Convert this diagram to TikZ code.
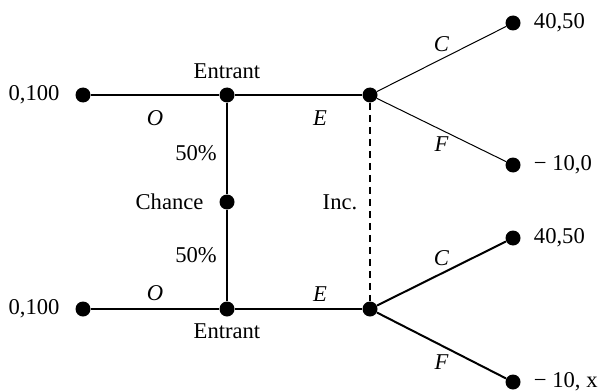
\documentclass[tikz,border=0pt]{standalone}
\usepackage{fontspec}
\setmainfont{Liberation Serif}
\usetikzlibrary{positioning}

\begin{document}
\begin{tikzpicture}[x=0.5pt,y=-0.5pt,font=\fontsize{11.3}{13}\selectfont,
  dot/.style={circle,fill=black,inner sep=0pt,minimum size=7.5pt},
  move/.style={line width=1.2pt},
  thinmove/.style={line width=0.5pt},
  infoset/.style={line width=0.7pt,dash pattern=on 3.5pt off 2.5pt}]
  \useasboundingbox (0,0) rectangle (598,390);
  % upper half
  \node[dot] (ot) at (83,95) {};
  \node[dot] (et) at (227,95) {};
  \node[dot] (it) at (370,95) {};
  \node[dot] (ct) at (513,23) {};
  \node[dot] (ft) at (513,165) {};
  % chance
  \node[dot] (ch) at (227,202) {};
  % lower half
  \node[dot] (ob) at (83,309) {};
  \node[dot] (eb) at (227,309) {};
  \node[dot] (ib) at (370,309) {};
  \node[dot] (cb) at (513,238) {};
  \node[dot] (fb) at (513,382) {};
  % labels
  \node[left=4.3pt of ot] (pot) {0,100};
  \node[left=4.3pt of ob] (pob) {0,100};
  \node[above=0.5pt of et] (let) {Entrant};
  \node[below=0pt of eb] (leb) {Entrant};
  \node[left=4.3pt of ch] (lch) {Chance};
  \node[right=3pt of ct] (pct) {40,50};
  \node[right=3pt of ft] (pft) {− 10,0};
  \node[right=3pt of cb] (pcb) {40,50};
  \node[right=3pt of fb] (pfb) {− 10, x};
  % moves
  \draw[move] (ot) -- (et) node[midway,below=4pt] {\textit{O}};
  \draw[move] (et) -- (it) node[pos=0.67,below=4pt] {\textit{E}};
  \draw[move] (ob) -- (eb) node[midway,above=0pt] {\textit{O}};
  \draw[move] (eb) -- (ib) node[pos=0.67,above=0pt] {\textit{E}};
  \draw[move] (et) -- (ch) node[pos=0.55,left=1.2pt] {50\%};
  \draw[move] (ch) -- (eb) node[pos=0.5,left=1.2pt] {50\%};
  \draw[thinmove] (it) -- (ct) node[midway,above] {\textit{C}};
  \draw[thinmove] (it) -- (ft) node[midway,below] {\textit{F}};
  \draw[line width=1pt] (ib) -- (cb) node[midway,above] {\textit{C}};
  \draw[line width=1pt] (ib) -- (fb) node[midway,below=1pt] {\textit{F}};
  \draw[infoset] (it) -- (ib) node[midway,left=2.7pt] {Inc.};
\end{tikzpicture}
\end{document}
